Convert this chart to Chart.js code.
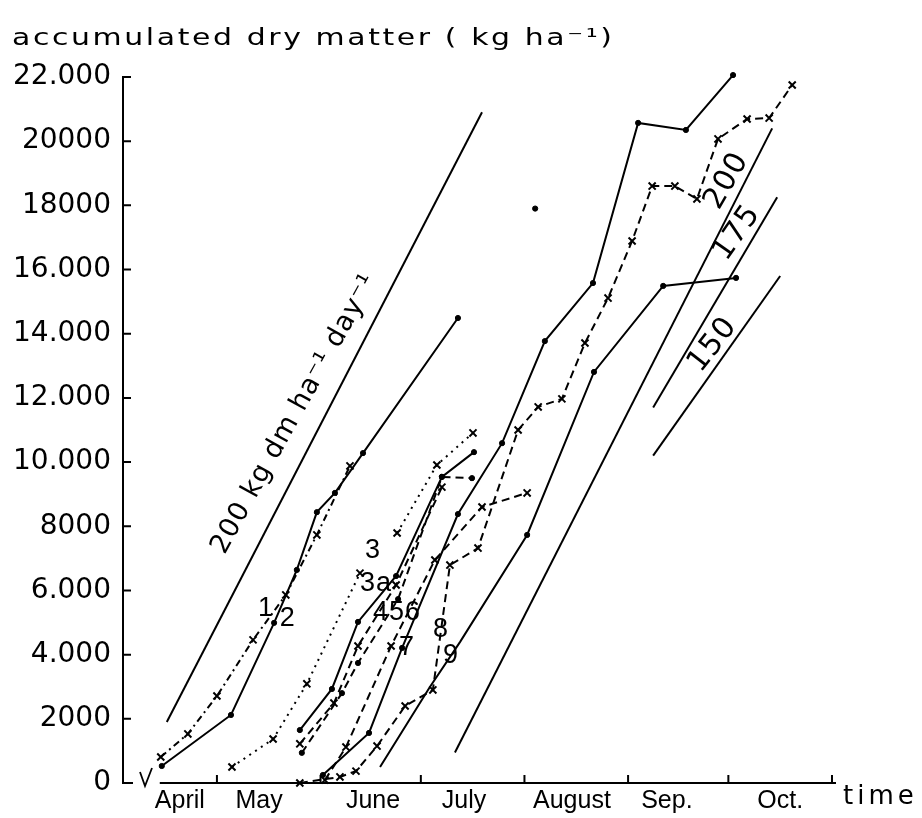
<!DOCTYPE html>
<html>
<head>
<meta charset="utf-8">
<script src="https://cdn.jsdelivr.net/npm/chart.js@4.4.0/dist/chart.umd.min.js"></script>
<style>
  html, body { margin: 0; padding: 0; background: #fff; }
  #wrap { width: 922px; height: 818px; }
</style>
</head>
<body>
<div id="wrap"><canvas id="chart" width="922" height="818"></canvas></div>
<script>
// x = day of year (1 May = 121), y = accumulated dry matter, kg/ha
const AXIS_START = 103.9;
const monthStarts = [121, 152, 182, 213, 244, 274, 305];
const monthNames = ['April', 'May', 'June', 'July', 'August', 'Sep.', 'Oct.'];
const monthLabelDays = [109.9, 133.6, 167.7, 194.9, 227.2, 255.6, 289.5];
const yTickLabels = ['0', '2000', '4.000', '6.000', '8000', '10.000', '12.000', '14.000', '16.000', '18000', '20000', '22.000'];

// growth-rate reference lines (kg dm/ha/day)
const ref200aDay = [106.0, 200.3], ref200aVal = [1900, 20900];
const ref200bDay = [192.2, 287.1], ref200bVal = [950, 20400];
const ref175Day = [251.5, 288.6], ref175Val = [11700, 18250];
const ref150Day = [251.5, 289.5], ref150Val = [10200, 15800];

// measured series
const s1Day = [104.2, 112.3, 121.0, 131.8, 141.6, 150.9, 160.8];
const s1Val = [810, 1530, 2710, 4460, 5860, 7730, 9880];
const s2Day = [104.5, 125.2, 138.1, 144.9, 150.9, 156.3, 164.7, 193.1];
const s2Val = [530, 2120, 4990, 6640, 8440, 9040, 10280, 14490];
const s3aDay = [125.5, 137.8, 147.9, 163.8];
const s3aVal = [500, 1370, 3090, 6540];
const s3Day = [174.9, 186.8, 197.6];
const s3Val = [7790, 9910, 10910];
const s4Day = [145.8, 155.4, 163.2, 174.6, 188.3, 197.9];
const s4Val = [1650, 2930, 5020, 6450, 9540, 10310];
const s5Day = [145.8, 156.0, 163.2, 174.6, 188.3];
const s5Val = [1220, 2490, 4270, 6170, 9220];
const s6Day = [146.4, 158.4, 163.2, 175.2, 188.3, 197.3];
const s6Val = [940, 2800, 3740, 5730, 9540, 9500];
const s7Day = [153.3, 159.6, 173.1, 186.2, 200.3, 213.8];
const s7Val = [90, 1120, 4270, 6950, 8600, 9040];
const s8Day = [145.8, 157.8, 162.6, 168.9, 177.3, 185.6, 190.7, 199.1, 211.1, 217.1, 224.2, 231.1, 238.0, 245.2, 251.2, 258.0, 264.6, 270.9, 279.6, 286.2, 293.1];
const s8Val = [0, 190, 370, 1150, 2400, 2900, 6790, 7320, 11000, 11720, 11970, 13710, 15110, 16890, 18600, 18600, 18200, 20070, 20690, 20720, 21750];
const s9Day = [169.8, 184.7, 193.7, 213.8, 233.8, 254.5, 276.3];
const s9Val = [500, 2990, 4390, 7730, 12810, 15490, 15740];
const s10Day = [152.7, 166.5, 176.4, 193.1, 206.3, 219.1, 233.5, 247.0, 261.3, 275.4];
const s10Val = [250, 1560, 4210, 8380, 10590, 13770, 15580, 20570, 20350, 22060];
const loneDay = [216.2], loneVal = [17900];

const pts = (days, vals) => days.map((d, i) => ({ x: d, y: vals[i] }));
const DASH = [8, 5], DOT = [2, 5], DASHDOT = [7, 4, 2, 4];

const series = (label, days, vals, dash, marker, extra) => Object.assign({
  label, data: pts(days, vals), showLine: true, tension: 0, clip: false,
  borderColor: '#000', borderWidth: 2, borderDash: dash,
  pointStyle: marker === 'x' ? 'crossRot' : 'circle',
  pointRadius: marker === 'x' ? 5 : (marker === 'dot' ? 2.6 : 0),
  pointBorderWidth: marker === 'x' ? 2 : 1,
  pointBorderColor: '#000', pointBackgroundColor: '#000'
}, extra || {});

const datasets = [
  series('200a', ref200aDay, ref200aVal, [], null),
  series('200b', ref200bDay, ref200bVal, [], null),
  series('175', ref175Day, ref175Val, [], null),
  series('150', ref150Day, ref150Val, [], null),
  series('1', s1Day, s1Val, DASHDOT, 'x'),
  series('2', s2Day, s2Val, [], 'dot'),
  series('3a', s3aDay, s3aVal, DOT, 'x'),
  series('3', s3Day, s3Val, DOT, 'x'),
  series('4', s4Day, s4Val, [], 'dot'),
  series('5', s5Day, s5Val, DASH, 'x'),
  series('6', s6Day, s6Val, DASH, 'dot'),
  series('7', s7Day, s7Val, DASH, 'x'),
  series('8', s8Day, s8Val, DASH, 'x'),
  series('9', s9Day, s9Val, [], 'dot', { pointRadius: c => c.dataIndex < 3 ? 0 : 2.6 }),
  series('10', s10Day, s10Val, [], 'dot'),
  series('lone', loneDay, loneVal, [], 'dot', { showLine: false })
];

// text written on the plot
const notes = [
  { text: '200 kg dm ha⁻¹ day⁻¹', day: 144.3, val: 11500, angle: -61, font: '27px "DejaVu Sans"' },
  { text: '1', day: 135.7, val: 5450, angle: 0, font: '27px "Liberation Sans"' },
  { text: '2', day: 142.2, val: 5140, angle: 0, font: '27px "Liberation Sans"' },
  { text: '3', day: 167.7, val: 7230, angle: 0, font: '27px "Liberation Sans"' },
  { text: '3a', day: 168.6, val: 6230, angle: 0, font: '27px "Liberation Sans"' },
  { text: '456', day: 174.9, val: 5300, angle: 0, font: '27px "Liberation Sans"' },
  { text: '7', day: 177.9, val: 4210, angle: 0, font: '27px "Liberation Sans"' },
  { text: '8', day: 188.0, val: 4770, angle: 0, font: '27px "Liberation Sans"' },
  { text: '9', day: 191.0, val: 3960, angle: 0, font: '27px "Liberation Sans"' },
  { text: '200', day: 273.6, val: 18760, angle: -60, font: '30px "DejaVu Sans"' },
  { text: '175', day: 276.6, val: 17140, angle: -55, font: '30px "DejaVu Sans"' },
  { text: '150', day: 269.4, val: 13650, angle: -52, font: '30px "DejaVu Sans"' }
];

const deco = {
  id: 'deco',
  afterDraw(chart) {
    const { ctx, chartArea: a, scales: { x, y } } = chart;
    ctx.save();
    ctx.strokeStyle = '#000'; ctx.fillStyle = '#000'; ctx.lineWidth = 2;
    // x axis (starts after the break), inward ticks
    ctx.beginPath();
    ctx.moveTo(x.getPixelForValue(AXIS_START), a.bottom); ctx.lineTo(a.right, a.bottom);
    ctx.moveTo(a.left, a.bottom); ctx.lineTo(a.left + 10, a.bottom);
    y.ticks.forEach(t => { const py = y.getPixelForValue(t.value); ctx.moveTo(a.left, py); ctx.lineTo(a.left + 8, py); });
    monthStarts.forEach(d => { const px = x.getPixelForValue(d); ctx.moveTo(px, a.bottom); ctx.lineTo(px, a.bottom - 8); });
    ctx.stroke();
    // break mark
    ctx.lineWidth = 1.8;
    ctx.beginPath();
    ctx.moveTo(a.left + 17, a.bottom - 11); ctx.lineTo(a.left + 22, a.bottom + 3); ctx.lineTo(a.left + 29, a.bottom - 15);
    ctx.stroke();

    // title (wide lettering) and axis word
    ctx.textAlign = 'left'; ctx.textBaseline = 'alphabetic';
    ctx.save();
    ctx.translate(12, 45);
    ctx.scale(1.3, 1);
    ctx.font = '23px "DejaVu Sans"';
    ctx.letterSpacing = '2px';
    ctx.fillText('accumulated dry matter ( kg ha⁻¹)', 0, 0);
    ctx.restore();
    ctx.font = '26px "DejaVu Sans"';
    ctx.letterSpacing = '4px';
    ctx.fillText('time', a.right + 7, a.bottom + 21);

    // notes on the plot
    ctx.textAlign = 'center'; ctx.textBaseline = 'middle';
    notes.forEach(n => {
      ctx.save();
      ctx.font = n.font;
      ctx.letterSpacing = '1px';
      ctx.translate(x.getPixelForValue(n.day), y.getPixelForValue(n.val));
      ctx.rotate(n.angle * Math.PI / 180);
      ctx.fillText(n.text, 0, 0);
      ctx.restore();
    });
    ctx.restore();
  }
};

new Chart(document.getElementById('chart'), {
  type: 'scatter',
  data: { datasets },
  options: {
    responsive: false, animation: false, devicePixelRatio: 1,
    layout: { padding: { top: 77, right: 86, bottom: 0, left: 0 } },
    plugins: { legend: { display: false }, tooltip: { enabled: false } },
    scales: {
      x: {
        type: 'linear', min: 92.9, max: 306.2,
        grid: { display: false, drawTicks: false }, border: { display: false },
        afterBuildTicks: s => { s.ticks = monthLabelDays.map(v => ({ value: v })); },
        afterFit: s => { s.height = 35; },
        ticks: {
          autoSkip: false, maxRotation: 0, padding: 3, color: '#000',
          font: { family: '"Liberation Sans"', size: 25 },
          callback: (v, i) => monthNames[i]
        }
      },
      y: {
        min: 0, max: 22000,
        grid: { display: false, drawTicks: false },
        border: { display: true, color: '#000', width: 2 },
        afterFit: s => { s.width = 123; },
        ticks: {
          stepSize: 2000, padding: 12, color: '#000',
          font: { family: '"DejaVu Sans"', size: 28 },
          callback: v => yTickLabels[Math.round(v / 2000)]
        }
      }
    }
  },
  plugins: [deco]
});
</script>
</body>
</html>
